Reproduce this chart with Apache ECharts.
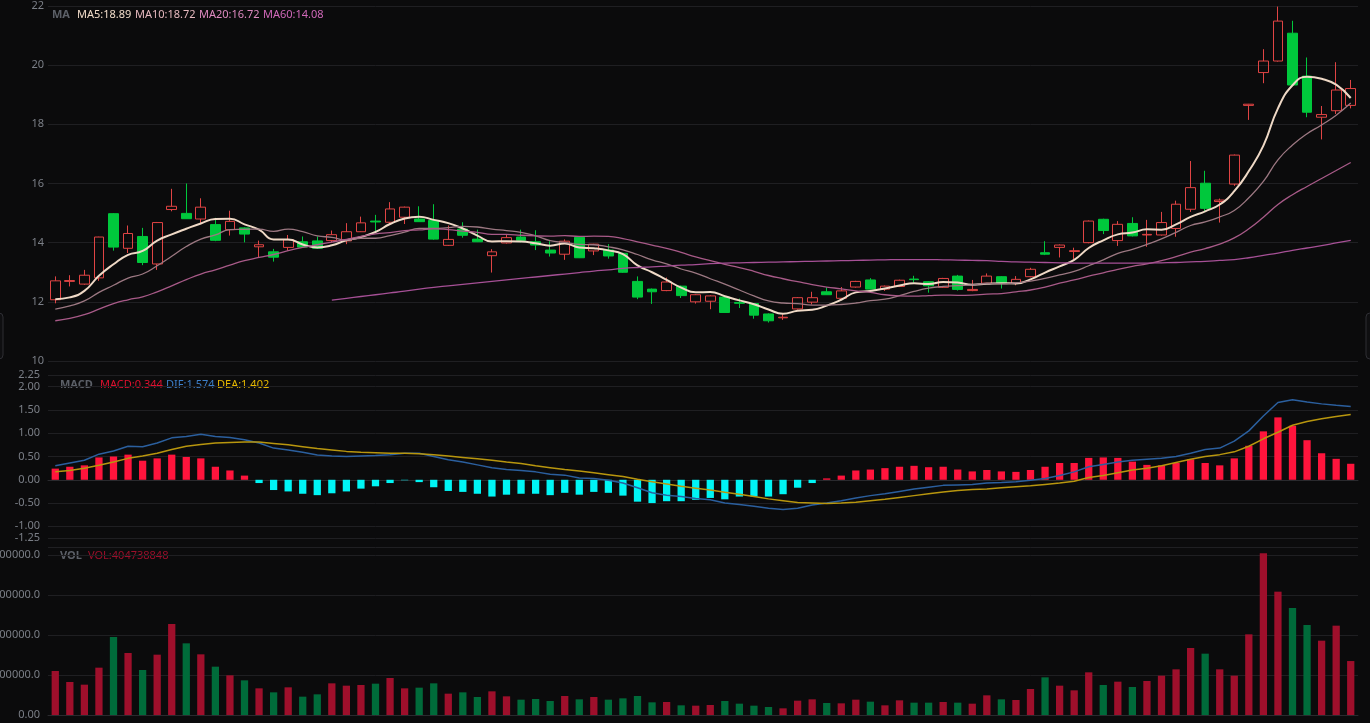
<!DOCTYPE html>
<html>
<head>
<meta charset="utf-8">
<title>K线 MA / MACD / VOL</title>
<script src="https://cdn.jsdelivr.net/npm/echarts@6/dist/echarts.min.js"></script>
<style>
  html, body { margin: 0; padding: 0; background: #0b0b0c; }
  #kline { width: 1370px; height: 723px; }
</style>
</head>
<body>
<div id="kline"></div>
<script>
  // [open, close, low, high]
  const ohlc = [
    [12.07, 12.71, 11.95, 12.86], [12.69, 12.72, 12.52, 12.90], [12.60, 12.90, 12.58, 13.08], [12.81, 14.19, 12.71, 14.20],
    [14.98, 13.85, 13.73, 15.00], [13.81, 14.31, 13.65, 14.58], [14.21, 13.33, 13.24, 14.50], [13.28, 14.68, 13.08, 14.70],
    [15.12, 15.23, 15.06, 15.82], [14.99, 14.81, 14.80, 16.00], [14.80, 15.20, 14.66, 15.50], [14.61, 14.08, 14.05, 14.84],
    [14.44, 14.72, 14.24, 15.08], [14.50, 14.29, 14.01, 14.52], [13.86, 13.93, 13.50, 14.07], [13.69, 13.51, 13.36, 13.79],
    [13.84, 14.10, 13.73, 14.26], [14.03, 13.85, 13.84, 14.21], [14.06, 13.81, 13.79, 14.21], [14.07, 14.27, 14.01, 14.41],
    [14.06, 14.37, 13.95, 14.66], [14.37, 14.67, 14.36, 14.88], [14.73, 14.70, 14.37, 14.94], [14.69, 15.14, 14.63, 15.37],
    [14.86, 15.20, 14.63, 15.22], [14.80, 14.71, 14.70, 15.23], [14.75, 14.12, 14.10, 15.30], [13.91, 14.11, 13.89, 14.58],
    [14.46, 14.25, 14.17, 14.69], [14.12, 14.03, 14.02, 14.44], [13.56, 13.69, 12.99, 13.78], [13.99, 14.17, 13.97, 14.29],
    [14.19, 14.08, 14.01, 14.44], [14.03, 13.92, 13.75, 14.42], [13.75, 13.65, 13.53, 14.05], [13.61, 14.05, 13.42, 14.11],
    [14.18, 13.49, 13.48, 14.19], [13.72, 13.95, 13.58, 13.96], [13.75, 13.55, 13.46, 13.95], [13.64, 13.00, 12.98, 13.66],
    [12.69, 12.16, 12.09, 12.86], [12.43, 12.34, 11.93, 12.45], [12.38, 12.67, 12.36, 12.82], [12.53, 12.21, 12.13, 12.55],
    [12.00, 12.24, 11.94, 12.26], [12.02, 12.20, 11.75, 12.22], [12.16, 11.64, 11.63, 12.18], [11.98, 11.95, 11.79, 12.11],
    [11.94, 11.55, 11.43, 11.96], [11.59, 11.36, 11.30, 11.61], [11.46, 11.48, 11.39, 11.58], [11.76, 12.14, 11.74, 12.16],
    [11.99, 12.14, 11.91, 12.34], [12.34, 12.24, 12.23, 12.49], [12.12, 12.37, 12.10, 12.50], [12.50, 12.69, 12.48, 12.71],
    [12.74, 12.43, 12.42, 12.80], [12.43, 12.53, 12.37, 12.55], [12.52, 12.73, 12.50, 12.75], [12.77, 12.75, 12.65, 12.88],
    [12.68, 12.54, 12.31, 12.70], [12.49, 12.79, 12.47, 12.81], [12.87, 12.42, 12.38, 12.91], [12.38, 12.42, 12.36, 12.74],
    [12.63, 12.87, 12.61, 12.96], [12.85, 12.63, 12.45, 12.87], [12.63, 12.76, 12.56, 12.87], [12.85, 13.10, 12.83, 13.15],
    [13.66, 13.61, 13.58, 14.05], [13.84, 13.92, 13.50, 13.94], [13.70, 13.73, 13.44, 13.83], [14.00, 14.73, 13.98, 14.75],
    [14.79, 14.41, 14.29, 14.81], [14.07, 14.62, 13.89, 14.73], [14.65, 14.23, 14.21, 14.86], [14.26, 14.28, 13.86, 14.77],
    [14.26, 14.68, 14.24, 15.04], [14.48, 15.30, 14.20, 15.42], [15.13, 15.86, 15.04, 16.76], [16.01, 15.16, 15.05, 16.43],
    [15.39, 15.44, 14.68, 15.49], [15.98, 16.96, 15.92, 16.98], [18.64, 18.68, 18.15, 18.69], [19.75, 20.14, 19.39, 20.54],
    [20.14, 21.49, 20.12, 21.98], [21.08, 19.33, 19.31, 21.50], [19.63, 18.41, 18.24, 20.26], [18.24, 18.33, 17.49, 18.62],
    [18.46, 19.16, 18.35, 20.10], [18.64, 19.21, 18.54, 19.50]
  ];

  const ma5 = [
    12.09, 12.15, 12.37, 12.88, 13.27, 13.59, 13.72, 14.07, 14.28, 14.47, 14.65, 14.80, 14.81, 14.62, 14.44, 14.11, 14.11, 13.94,
    13.84, 13.91, 14.08, 14.19, 14.36, 14.63, 14.82, 14.88, 14.77, 14.66, 14.48, 14.24, 14.04, 14.05, 14.04, 13.98, 13.90, 13.97,
    13.84, 13.81, 13.74, 13.61, 13.23, 13.00, 12.74, 12.48, 12.32, 12.33, 12.19, 12.05, 11.92, 11.74, 11.60, 11.70, 11.73, 11.87,
    12.07, 12.32, 12.37, 12.45, 12.55, 12.63, 12.60, 12.67, 12.65, 12.58, 12.61, 12.63, 12.62, 12.76, 12.99, 13.20, 13.42, 13.82,
    14.08, 14.28, 14.34, 14.45, 14.44, 14.62, 14.87, 15.06, 15.29, 15.74, 16.42, 17.28, 18.54, 19.32, 19.61, 19.54, 19.34, 18.89
  ];
  const ma10 = [
    11.75, 11.86, 12.03, 12.32, 12.56, 12.80, 12.94, 13.22, 13.54, 13.87, 14.12, 14.26, 14.44, 14.45, 14.46, 14.38, 14.46, 14.37,
    14.23, 14.18, 14.09, 14.15, 14.15, 14.24, 14.36, 14.48, 14.48, 14.51, 14.55, 14.53, 14.46, 14.41, 14.35, 14.23, 14.07, 14.01,
    13.94, 13.93, 13.86, 13.76, 13.60, 13.42, 13.28, 13.11, 12.97, 12.78, 12.60, 12.40, 12.20, 12.03, 11.96, 11.94, 11.89, 11.89,
    11.91, 11.96, 12.04, 12.09, 12.21, 12.35, 12.46, 12.52, 12.55, 12.57, 12.62, 12.61, 12.64, 12.70, 12.79, 12.91, 13.03, 13.22,
    13.42, 13.64, 13.77, 13.94, 14.13, 14.35, 14.58, 14.70, 14.87, 15.09, 15.52, 16.07, 16.80, 17.30, 17.68, 17.98, 18.31, 18.72
  ];
  const ma20 = [
    11.36, 11.44, 11.57, 11.75, 11.94, 12.07, 12.17, 12.34, 12.54, 12.75, 12.94, 13.08, 13.24, 13.39, 13.50, 13.60, 13.73, 13.84,
    13.93, 14.02, 14.11, 14.21, 14.30, 14.34, 14.41, 14.43, 14.47, 14.44, 14.39, 14.35, 14.28, 14.28, 14.25, 14.23, 14.22, 14.24,
    14.21, 14.22, 14.21, 14.14, 14.03, 13.92, 13.81, 13.67, 13.52, 13.39, 13.27, 13.16, 13.03, 12.89, 12.78, 12.68, 12.58, 12.50,
    12.44, 12.37, 12.32, 12.24, 12.20, 12.19, 12.21, 12.23, 12.22, 12.23, 12.26, 12.28, 12.34, 12.40, 12.50, 12.63, 12.74, 12.87,
    12.98, 13.10, 13.20, 13.28, 13.39, 13.53, 13.68, 13.80, 13.95, 14.16, 14.47, 14.86, 15.29, 15.62, 15.90, 16.17, 16.44, 16.71
  ];
  const ma60 = [
    null, null, null, null, null, null, null, null, null, null, null, null, null, null, null, null, null, null,
    null, 12.06, 12.12, 12.18, 12.24, 12.30, 12.36, 12.43, 12.49, 12.54, 12.59, 12.64, 12.69, 12.74, 12.79, 12.84, 12.89, 12.94,
    12.99, 13.04, 13.08, 13.13, 13.16, 13.18, 13.21, 13.24, 13.26, 13.29, 13.31, 13.32, 13.33, 13.34, 13.35, 13.36, 13.37, 13.38,
    13.39, 13.40, 13.41, 13.42, 13.43, 13.43, 13.43, 13.42, 13.41, 13.40, 13.39, 13.37, 13.35, 13.34, 13.33, 13.32, 13.31, 13.31,
    13.31, 13.31, 13.31, 13.31, 13.32, 13.33, 13.35, 13.37, 13.40, 13.43, 13.49, 13.57, 13.65, 13.74, 13.82, 13.90, 13.99, 14.08
  ];

  const dif = [
    0.30, 0.36, 0.42, 0.55, 0.62, 0.72, 0.71, 0.79, 0.90, 0.93, 0.98, 0.93, 0.91, 0.86, 0.79, 0.68, 0.64, 0.59,
    0.53, 0.51, 0.50, 0.51, 0.52, 0.54, 0.57, 0.57, 0.50, 0.43, 0.38, 0.32, 0.26, 0.22, 0.20, 0.17, 0.12, 0.10,
    0.04, 0.03, -0.01, -0.07, -0.17, -0.28, -0.33, -0.36, -0.40, -0.43, -0.50, -0.53, -0.57, -0.61, -0.64, -0.61, -0.54, -0.50,
    -0.45, -0.39, -0.34, -0.30, -0.25, -0.20, -0.16, -0.12, -0.11, -0.10, -0.07, -0.06, -0.04, -0.01, 0.03, 0.09, 0.17, 0.28,
    0.33, 0.38, 0.42, 0.44, 0.46, 0.50, 0.57, 0.65, 0.68, 0.83, 1.05, 1.37, 1.66, 1.72, 1.67, 1.63, 1.60, 1.574
  ];
  const dea = [
    0.17, 0.20, 0.25, 0.31, 0.38, 0.46, 0.51, 0.57, 0.65, 0.72, 0.76, 0.79, 0.80, 0.81, 0.81, 0.78, 0.75, 0.71,
    0.67, 0.64, 0.61, 0.59, 0.58, 0.57, 0.57, 0.56, 0.54, 0.51, 0.48, 0.45, 0.42, 0.38, 0.35, 0.30, 0.26, 0.22,
    0.19, 0.15, 0.11, 0.07, 0.01, -0.04, -0.09, -0.14, -0.18, -0.22, -0.27, -0.31, -0.36, -0.41, -0.45, -0.49, -0.50, -0.51,
    -0.50, -0.48, -0.45, -0.42, -0.38, -0.34, -0.30, -0.26, -0.23, -0.21, -0.20, -0.17, -0.15, -0.13, -0.10, -0.07, -0.03, 0.05,
    0.09, 0.15, 0.21, 0.25, 0.30, 0.37, 0.44, 0.50, 0.54, 0.60, 0.72, 0.88, 1.02, 1.17, 1.25, 1.31, 1.36, 1.402
  ];
  const macd = [
    0.24, 0.28, 0.31, 0.48, 0.50, 0.54, 0.41, 0.46, 0.54, 0.49, 0.46, 0.28, 0.20, 0.09, -0.07, -0.22, -0.25, -0.30,
    -0.33, -0.29, -0.25, -0.19, -0.14, -0.07, -0.01, -0.05, -0.16, -0.24, -0.26, -0.30, -0.36, -0.32, -0.30, -0.30, -0.33, -0.28,
    -0.32, -0.26, -0.28, -0.34, -0.47, -0.50, -0.46, -0.46, -0.43, -0.39, -0.42, -0.36, -0.36, -0.36, -0.31, -0.17, -0.07, 0.03,
    0.09, 0.20, 0.22, 0.25, 0.28, 0.30, 0.27, 0.28, 0.22, 0.18, 0.21, 0.18, 0.17, 0.21, 0.28, 0.36, 0.36, 0.47,
    0.48, 0.47, 0.39, 0.32, 0.31, 0.36, 0.44, 0.36, 0.31, 0.46, 0.73, 1.04, 1.34, 1.16, 0.85, 0.57, 0.45, 0.344
  ];

  const volume = [
    330000000, 247500000, 227500000, 355000000, 585000000, 465000000, 337500000, 452500000, 682500000, 537500000,
    455000000, 362500000, 297500000, 260000000, 200000000, 170000000, 207500000, 137500000, 155000000, 237500000,
    220000000, 225000000, 235000000, 277500000, 200000000, 205000000, 237500000, 160000000, 170000000, 135000000,
    177500000, 140000000, 115000000, 120000000, 105000000, 142500000, 117500000, 135000000, 115000000, 125000000,
    142500000, 95000000, 97500000, 72500000, 70000000, 75000000, 105000000, 85000000, 70000000, 60000000,
    50000000, 107500000, 117500000, 90000000, 87500000, 115000000, 100000000, 72500000, 110000000, 92500000,
    92500000, 97500000, 92500000, 85000000, 147500000, 117500000, 112500000, 195000000, 282500000, 220000000,
    185000000, 320000000, 225000000, 250000000, 210000000, 255000000, 295000000, 342500000, 502500000, 460000000,
    342500000, 295000000, 605000000, 1212500000, 925000000, 802500000, 675000000, 557500000, 670000000, 404738848
  ];

  const days = ohlc.map((_, i) => 'D' + (i + 1));

  const bg = '#0b0b0c';
  const upColor = '#e04444';
  const downColor = '#00c83c';
  const splitColor = '#1f1f22';
  const labelColor = '#7b7f87';
  const fontFamily = '"Noto Sans", "Liberation Sans", sans-serif';

  const myChart = echarts.init(document.getElementById('kline'));

  function maLine(name, data, color, width) {
    return {
      name: name,
      type: 'line',
      data: data,
      smooth: true,
      showSymbol: false,
      connectNulls: false,
      lineStyle: { color: color, width: width },
      z: 3,
    };
  }

  function legendText(x, y, text, color, bold) {
    return {
      type: 'text',
      x: x,
      y: y,
      silent: true,
      style: {
        text: text,
        fill: color,
        font: (bold ? 'bold ' : '') + '11px ' + fontFamily,
        textVerticalAlign: 'middle',
      },
    };
  }

  const yLabel = {
    color: labelColor,
    fontSize: 11,
    fontFamily: fontFamily,
  };

  // labels may run off the left edge, like the original
  const gridBase = { left: 48, right: 12, outerBoundsMode: 'none', containLabel: false };

  myChart.setOption({
    backgroundColor: bg,
    animation: false,
    grid: [
      Object.assign({ top: 6, height: 355 }, gridBase),
      Object.assign({ top: 375, height: 163 }, gridBase),
      Object.assign({ top: 547, height: 168 }, gridBase),
    ],
    xAxis: [
      {
        type: 'category', gridIndex: 0, data: days, boundaryGap: true,
        axisLine: { show: false }, axisTick: { show: false }, axisLabel: { show: false }, splitLine: { show: false },
      },
      {
        type: 'category', gridIndex: 1, data: days, boundaryGap: true,
        axisLine: { show: true, onZero: true, lineStyle: { color: '#2a2a2e' } },
        axisTick: { show: false }, axisLabel: { show: false }, splitLine: { show: false },
      },
      {
        type: 'category', gridIndex: 2, data: days, boundaryGap: true,
        axisLine: { show: true, lineStyle: { color: '#2a2a2e' } },
        axisTick: { show: false }, axisLabel: { show: false }, splitLine: { show: false },
      },
    ],
    yAxis: [
      {
        type: 'value', gridIndex: 0, min: 10, max: 22, interval: 2,
        axisLine: { show: false }, axisTick: { show: false },
        axisLabel: Object.assign({ margin: 4 }, yLabel),
        splitLine: { lineStyle: { color: splitColor } },
      },
      {
        type: 'value', gridIndex: 1, min: -1.25, max: 2.25, splitNumber: 7,
        axisLine: { show: false }, axisTick: { show: false },
        axisLabel: Object.assign({ margin: 8, formatter: (v) => v.toFixed(2) }, yLabel),
        splitLine: { lineStyle: { color: splitColor } },
      },
      {
        type: 'value', gridIndex: 2, min: 0, max: 1260000000, interval: 300000000,
        axisLine: { show: false }, axisTick: { show: false },
        axisLabel: Object.assign({
          margin: 8,
          showMaxLabel: false,
          formatter: (v) => (v === 0 ? '0.00' : v.toFixed(1)),
        }, yLabel),
        splitLine: { lineStyle: { color: splitColor } },
      },
    ],
    series: [
      {
        name: 'K',
        type: 'candlestick',
        xAxisIndex: 0,
        yAxisIndex: 0,
        data: ohlc,
        barWidth: '70%',
        itemStyle: {
          color: 'transparent',
          color0: downColor,
          borderColor: upColor,
          borderColor0: downColor,
          borderWidth: 1,
        },
        z: 2,
      },
      maLine('MA5', ma5, '#efd9c6', 2),
      maLine('MA10', ma10, '#9c7882', 1.3),
      maLine('MA20', ma20, '#a85a88', 1.3),
      maLine('MA60', ma60, '#a65096', 1.3),
      {
        name: 'MACD',
        type: 'bar',
        xAxisIndex: 1,
        yAxisIndex: 1,
        data: macd,
        barWidth: '50%',
        itemStyle: {
          color: (p) => (p.value >= 0 ? '#ff143c' : '#00f5f5'),
        },
      },
      {
        name: 'DIF',
        type: 'line',
        xAxisIndex: 1,
        yAxisIndex: 1,
        data: dif,
        showSymbol: false,
        lineStyle: { color: '#2b5f9e', width: 1.5 },
      },
      {
        name: 'DEA',
        type: 'line',
        xAxisIndex: 1,
        yAxisIndex: 1,
        data: dea,
        showSymbol: false,
        lineStyle: { color: '#b8960e', width: 1.5 },
      },
      {
        name: 'VOL',
        type: 'bar',
        xAxisIndex: 2,
        yAxisIndex: 2,
        data: volume,
        barWidth: '50%',
        itemStyle: {
          color: (p) => (ohlc[p.dataIndex][1] >= ohlc[p.dataIndex][0] ? '#9e0f2b' : '#006b3a'),
        },
      },
    ],
    graphic: [
      legendText(52, 15, 'MA', '#5c6068', true),
      legendText(77, 15, 'MA5:18.89', '#f1dcc9', false),
      legendText(135, 15, 'MA10:18.72', '#e6b9bf', false),
      legendText(199, 15, 'MA20:16.72', '#de8ac0', false),
      legendText(263, 15, 'MA60:14.08', '#d068b9', false),
      legendText(60, 385, 'MACD', '#5c6068', true),
      legendText(100, 385, 'MACD:0.344', '#e0102f', false),
      legendText(166, 385, 'DIF:1.574', '#3d7fc9', false),
      legendText(217, 385, 'DEA:1.402', '#e6b800', false),
      legendText(60, 556, 'VOL', '#5c6068', true),
      legendText(88, 556, 'VOL:404738848', '#9e0f2b', false),
      {
        type: 'rect',
        silent: true,
        shape: { x: -6, y: 313, width: 9, height: 46, r: 4 },
        style: { fill: '#0f0f11', stroke: '#2e2e33', lineWidth: 1 },
      },
      {
        type: 'rect',
        silent: true,
        shape: { x: 1366, y: 313, width: 10, height: 46, r: 4 },
        style: { fill: '#0f0f11', stroke: '#2e2e33', lineWidth: 1 },
      },
    ],
  });
</script>
</body>
</html>
